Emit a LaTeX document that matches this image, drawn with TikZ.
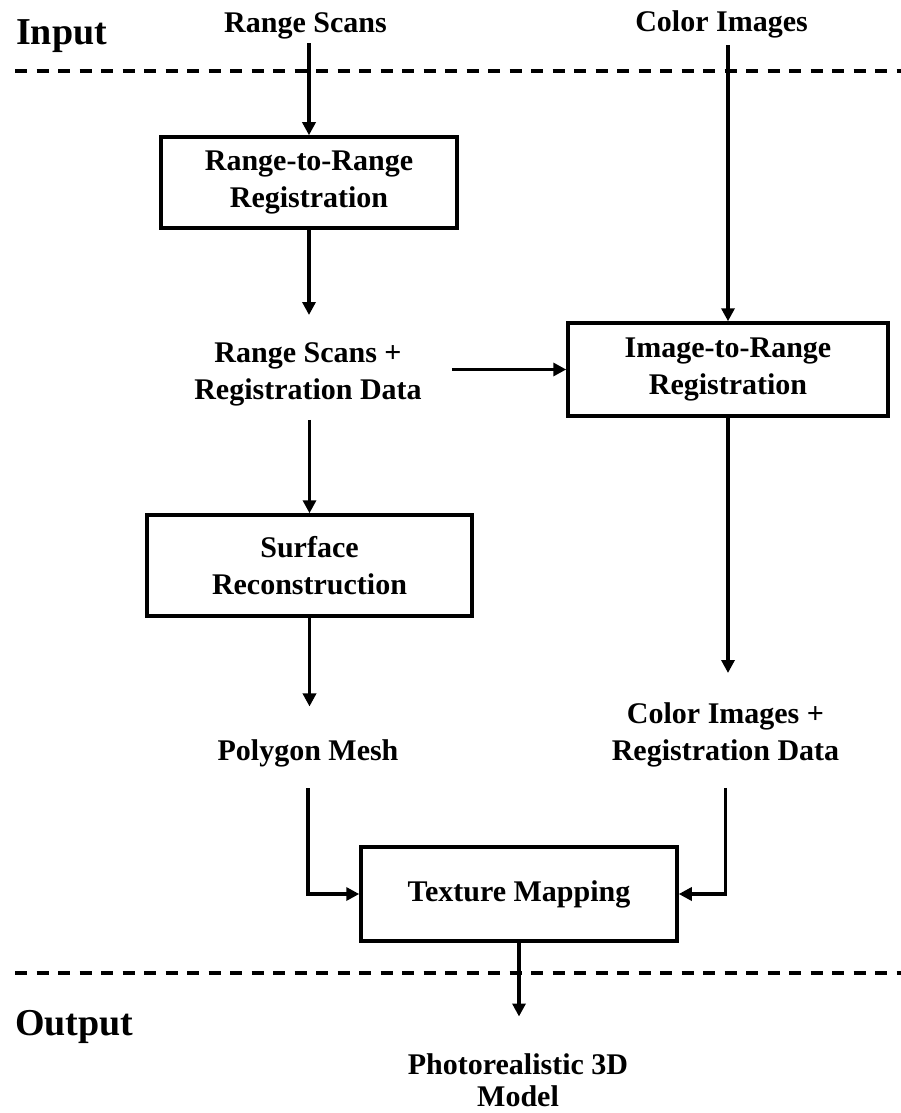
\documentclass[tikz,border=0pt]{standalone}
\usepackage{fontspec}
\setmainfont{Liberation Serif}
\usetikzlibrary{arrows.meta,calc}
\begin{document}
\begin{tikzpicture}[x=1pt,y=-1pt,
  txt/.style={font=\fontsize{30}{37}\selectfont\bfseries, inner sep=0pt, align=center},
  big/.style={font=\fontsize{38}{44}\selectfont\bfseries, inner sep=0pt},
  box/.style={txt, draw, line width=3.5pt},
  arr/.style={line width=3.5pt, -{Triangle[length=13pt,width=13pt]}},
  dashline/.style={line width=3.5pt, dash pattern=on 12pt off 9.5pt}]
\useasboundingbox (0,0) rectangle (901,1113);
% section labels and separators
\node[big, anchor=base west] (input) at (16,45) {Input};
\node[big, anchor=base west] (output) at (15,1035) {Output};
\draw[dashline] (15,71) -- (901,71);
\draw[dashline] (15,973) -- (901,973);
% inputs
\node[txt, anchor=base] (rs) at (305.5,33) {Range Scans};
\node[txt, anchor=base] (ci) at (721.5,32) {Color Images};
% boxes
\node[box, minimum width=296pt, minimum height=91pt] (r2r) at (309,182.5) {Range-to-Range\\Registration};
\node[box, minimum width=320pt, minimum height=93pt] (i2r) at (728,369.5) {Image-to-Range\\Registration};
\node[box, minimum width=325pt, minimum height=101pt] (surf) at (309.5,565.5) {Surface\\Reconstruction};
\node[box, minimum width=316pt, minimum height=94pt] (tex) at (519,894) {Texture Mapping};
% intermediate data
\node[txt, anchor=north] (rsr) at (308,342.5) {Range Scans +\\Registration Data};
\node[txt, anchor=north] (cir) at (725.5,702.5) {Color Images +\\Registration Data};
\node[txt, anchor=base] (pm) at (308,760) {Polygon Mesh};
\node[txt, anchor=north] (photo) at (518,1053) {Photorealistic 3D\\[-5pt]Model};
% connectors
\draw[arr, shorten <=3.5pt] (r2r.north |- rs.south) -- (r2r.north);
\draw[arr, shorten <=6.5pt] (i2r.north |- ci.south) -- (i2r.north);
\draw[arr, shorten >=27.5pt] (r2r.south) -- (r2r.south |- rsr.north);
\draw[arr, shorten <=30pt] (rsr.east |- i2r.west) -- (i2r.west);
\draw[arr, shorten <=13.5pt] (surf.north |- rsr.south) -- (surf.north);
\draw[arr, shorten >=29.5pt] (i2r.south) -- (i2r.south |- cir.north);
\draw[arr, shorten >=32.5pt] (surf.south) -- (surf.south |- pm.north);
\draw[arr, shorten <=21.5pt] (pm.south) |- (tex.west);
\draw[arr, shorten <=20.5pt] (cir.south) |- (tex.east);
\draw[arr, shorten >=36.5pt] (tex.south) -- (tex.south |- photo.north);
\end{tikzpicture}
\end{document}
